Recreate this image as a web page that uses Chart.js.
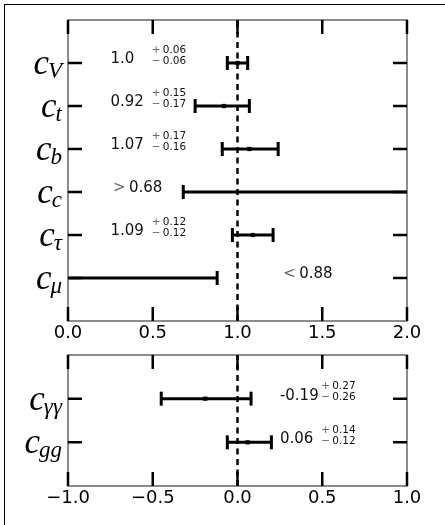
<!DOCTYPE html>
<html>
<head>
<meta charset="utf-8">
<script src="https://cdn.jsdelivr.net/npm/chart.js@4.4.0/dist/chart.umd.min.js"></script>
<style>
  html, body { margin: 0; padding: 0; background: #fff; overflow: hidden; }
  body { width: 445px; height: 525px; position: relative; }
  #frame { position: absolute; left: 4px; top: 4px; width: 600px; height: 600px;
           border-left: 1.5px solid #000; border-top: 1.5px solid #000; }
  canvas { position: absolute; left: 0; }
  #topPanel { top: 0; }
  #bottomPanel { top: 345px; }
</style>
</head>
<body>
<div id="frame"></div>
<canvas id="topPanel" width="445" height="345"></canvas>
<canvas id="bottomPanel" width="445" height="165"></canvas>
<script>
// upper panel: fermion / vector couplings
const topNames = ['V', 't', 'b', 'c', 'τ', 'μ'];
const topValues = [1.0, 0.92, 1.07, null, 1.09, null];
const topErrUp = [0.06, 0.15, 0.17, null, 0.12, null];
const topErrDown = [0.06, 0.17, 0.16, null, 0.12, null];
const topLowerLimits = [null, null, null, 0.68, null, null];
const topUpperLimits = [null, null, null, null, null, 0.88];
const topTicks = [0.0, 0.5, 1.0, 1.5, 2.0];
const topReference = 1.0;

// lower panel: loop couplings
const bottomNames = ['γγ', 'gg'];
const bottomValues = [-0.19, 0.06];
const bottomErrUp = [0.27, 0.14];
const bottomErrDown = [0.26, 0.12];
const bottomLowerLimits = [null, null];
const bottomUpperLimits = [null, null];
const bottomTicks = [-1.0, -0.5, 0.0, 0.5, 1.0];
const bottomReference = 0.0;

function fmt(v) {
  return Number.isInteger(v) ? v.toFixed(1) : String(v);
}

function buildPanel(id, p) {
  const n = p.names.length;
  const ymax = n + 1;
  const xmin = p.ticks[0];
  const xmax = p.ticks[p.ticks.length - 1];
  const datasets = [];

  datasets.push({
    data: [{x: p.ref, y: 0}, {x: p.ref, y: ymax}],
    showLine: true, borderColor: '#000', borderWidth: 2.5, borderDash: [6, 4.5],
    pointRadius: 0
  });

  p.names.forEach((name, i) => {
    const y = n - i;
    let lo, hi, capLo = 7, capHi = 7;
    if (p.values[i] !== null) {
      lo = p.values[i] - p.errDown[i];
      hi = p.values[i] + p.errUp[i];
    } else if (p.lower[i] !== null) {
      lo = p.lower[i]; hi = xmax; capHi = 0;
    } else {
      lo = xmin; hi = p.upper[i]; capLo = 0;
    }
    datasets.push({
      data: [{x: lo, y: y}, {x: hi, y: y}],
      showLine: true, borderColor: '#000', borderWidth: 3,
      pointStyle: 'line', pointRotation: 90, pointRadius: [capLo, capHi],
      pointBorderWidth: 3, pointBorderColor: '#000'
    });
    if (p.values[i] !== null) {
      datasets.push({
        data: [{x: p.values[i], y: y}],
        pointStyle: 'rect', pointRadius: 3, pointBorderWidth: 0,
        pointBackgroundColor: '#000'
      });
    }
  });

  const decor = {
    id: 'decor',
    afterDatasetsDraw(chart) {
      const ctx = chart.ctx;
      const a = chart.chartArea;
      const xs = chart.scales.x, ys = chart.scales.y;
      ctx.save();
      // spines
      ctx.strokeStyle = '#666';
      ctx.lineWidth = 1.5;
      ctx.strokeRect(a.left, a.top, a.right - a.left, a.bottom - a.top);
      // inward ticks
      ctx.strokeStyle = '#000';
      ctx.lineWidth = 2.5;
      ctx.beginPath();
      xs.ticks.forEach(t => {
        const px = xs.getPixelForValue(t.value);
        ctx.moveTo(px, a.top); ctx.lineTo(px, a.top + 14);
        ctx.moveTo(px, a.bottom); ctx.lineTo(px, a.bottom - 14);
      });
      p.names.forEach((name, i) => {
        const py = ys.getPixelForValue(n - i);
        ctx.moveTo(a.left, py); ctx.lineTo(a.left + 14, py);
        ctx.moveTo(a.right - 14, py); ctx.lineTo(a.right, py);
      });
      ctx.stroke();

      // coupling names c_X
      p.names.forEach((name, i) => {
        const py = ys.getPixelForValue(n - i);
        ctx.fillStyle = '#000';
        ctx.textBaseline = 'alphabetic';
        ctx.textAlign = 'left';
        ctx.font = 'italic 23px "Liberation Serif"';
        const subW = ctx.measureText(name).width;
        const xSub = a.left - 6 - subW;
        ctx.fillText(name, xSub, py + 15);
        ctx.font = 'italic 35px "Liberation Serif"';
        const cW = ctx.measureText('c').width;
        ctx.fillText('c', xSub - cW + 1, py + 11);
      });

      // value annotations
      p.names.forEach((name, i) => {
        const py = ys.getPixelForValue(n - i) + p.textDy;
        const px = xs.getPixelForValue(p.textX[i]);
        ctx.textAlign = 'left';
        ctx.textBaseline = 'alphabetic';
        if (p.values[i] !== null) {
          ctx.font = '15px "DejaVu Sans"';
          ctx.fillStyle = '#111';
          ctx.fillText(fmt(p.values[i]), px, py);
          const ex = xs.getPixelForValue(p.errX);
          ctx.font = '10.5px "DejaVu Sans"';
          ctx.fillStyle = '#666';
          ctx.fillText('+', ex - 1, py - 10.5);
          ctx.fillText('\u2212', ex - 1, py + 0.5);
          ctx.fillStyle = '#111';
          ctx.fillText(fmt(p.errUp[i]), ex + 10, py - 10.5);
          ctx.fillText(fmt(p.errDown[i]), ex + 10, py + 0.5);
        } else {
          const sign = p.lower[i] !== null ? '>' : '<';
          const lim = p.lower[i] !== null ? p.lower[i] : p.upper[i];
          ctx.font = '15px "DejaVu Sans"';
          ctx.fillStyle = '#666';
          ctx.fillText(sign, px, py);
          ctx.fillStyle = '#111';
          ctx.fillText(fmt(lim), px + 16, py);
        }
      });
      ctx.restore();
    }
  };

  new Chart(document.getElementById(id), {
    type: 'scatter',
    data: { datasets: datasets },
    options: {
      responsive: false,
      animation: false,
      events: [],
      devicePixelRatio: 1,
      layout: { padding: { left: 68, right: 38, top: p.top, bottom: 0 } },
      plugins: { legend: { display: false }, tooltip: { enabled: false } },
      scales: {
        x: {
          type: 'linear', min: xmin, max: xmax,
          grid: { display: false, drawTicks: false },
          border: { display: false },
          ticks: {
            stepSize: 0.5, padding: 2, color: '#000', autoSkip: false, maxRotation: 0,
            font: { family: 'DejaVu Sans', size: 18 },
            callback: v => (v < 0 ? '\u2212' : '') + Math.abs(v).toFixed(1)
          },
          afterFit: s => { s.height = 24; }
        },
        y: { type: 'linear', min: 0, max: ymax, display: false }
      }
    },
    plugins: [decor]
  });
}

buildPanel('topPanel', {
  names: topNames, values: topValues, errUp: topErrUp, errDown: topErrDown,
  lower: topLowerLimits, upper: topUpperLimits, ticks: topTicks, ref: topReference,
  top: 20, textX: [0.25, 0.25, 0.25, 0.265, 0.25, 1.27], errX: 0.5, textDy: 0
});

buildPanel('bottomPanel', {
  names: bottomNames, values: bottomValues, errUp: bottomErrUp, errDown: bottomErrDown,
  lower: bottomLowerLimits, upper: bottomUpperLimits, ticks: bottomTicks, ref: bottomReference,
  top: 5, textX: [0.25, 0.25], errX: 0.5, textDy: 1
});
</script>
</body>
</html>
